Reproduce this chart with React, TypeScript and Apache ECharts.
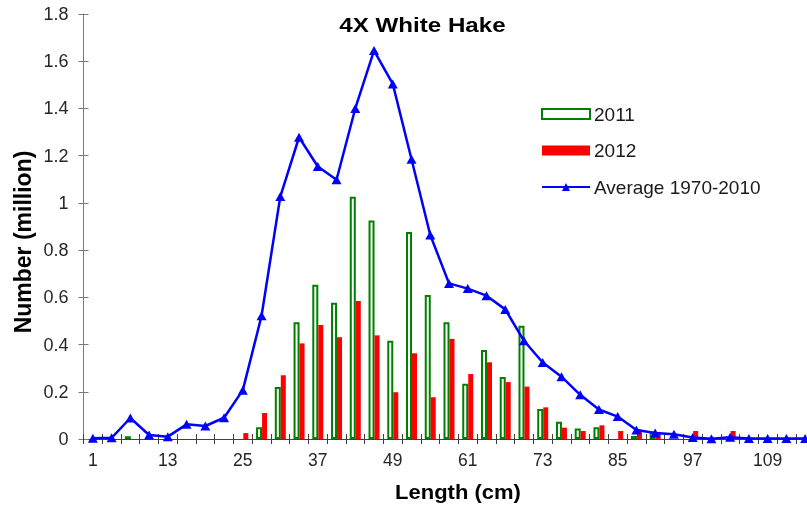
import React, { useEffect, useRef } from "react";
import * as echarts from "echarts";

const lengths = [1, 4, 7, 10, 13, 16, 19, 22, 25, 28, 31, 34, 37, 40, 43, 46, 49, 52, 55, 58, 61, 64, 67, 70, 73, 76, 79, 82, 85, 88, 91, 94, 97, 100, 103, 106, 109, 112, 115];

const avg19702010 = [0.003, 0.005, 0.089, 0.017, 0.01, 0.062, 0.055, 0.09, 0.207, 0.522, 1.027, 1.278, 1.154, 1.098, 1.4, 1.645, 1.504, 1.185, 0.864, 0.659, 0.637, 0.607, 0.549, 0.416, 0.324, 0.264, 0.187, 0.125, 0.095, 0.038, 0.025, 0.02, 0.006, 0.001, 0.007, 0.002, 0.002, 0.002, 0.002];

const y2011 = [0, 0, 0.012, 0, 0, 0, 0, 0, 0, 0.05, 0.22, 0.494, 0.653, 0.577, 1.026, 0.925, 0.416, 0.877, 0.61, 0.494, 0.234, 0.377, 0.263, 0.48, 0.127, 0.073, 0.045, 0.05, 0, 0.013, 0.031, 0, 0, 0, 0, 0, 0, 0, 0];

const y2012 = [0, 0, 0, 0, 0, 0, 0, 0, 0.025, 0.11, 0.27, 0.405, 0.483, 0.431, 0.584, 0.439, 0.198, 0.363, 0.177, 0.424, 0.275, 0.325, 0.241, 0.222, 0.134, 0.048, 0.034, 0.058, 0.034, 0.04, 0.03, 0, 0.034, 0, 0.034, 0, 0, 0, 0];

const FONT = "'Liberation Sans', Arial, sans-serif";

export default function App() {
  const ref = useRef<HTMLDivElement>(null);

  useEffect(() => {
    const chart = echarts.init(ref.current!, null, { renderer: "svg" });
    const cats = lengths.map(String);
    const nz = (v: number) => (v === 0 ? "-" : v);
    const yBase = {
      type: "value" as const,
      min: 0,
      max: 1.8,
      interval: 0.2,
      splitLine: { show: false },
    };
    const xBase = {
      type: "category" as const,
      data: cats,
      boundaryGap: true,
    };
    chart.setOption({
      animation: false,
      textStyle: { fontFamily: FONT },
      grid: { left: 83.5, right: 0.5, top: 14, bottom: 71, containLabel: false },
      xAxis: [
        {
          ...xBase,
          axisLine: { lineStyle: { color: "#404040", width: 1 } },
          axisTick: { show: true, interval: 0, length: 5, lineStyle: { color: "#404040" } },
          axisLabel: { interval: 3, fontSize: 17.5, color: "#262626", margin: 12, fontFamily: FONT },
        },
        {
          ...xBase,
          position: "bottom",
          axisLine: { show: false },
          axisTick: { show: true, inside: true, interval: 0, length: 5, lineStyle: { color: "#404040" } },
          axisLabel: { show: false },
        },
      ],
      yAxis: [
        {
          ...yBase,
          axisLine: { show: true, lineStyle: { color: "#7a7a7a" } },
          axisTick: { show: true, length: 5, lineStyle: { color: "#7a7a7a" } },
          axisLabel: { fontSize: 18, color: "#262626", margin: 15, fontFamily: FONT },
        },
        {
          ...yBase,
          position: "left",
          axisLine: { show: false },
          axisTick: { show: true, inside: true, length: 5, lineStyle: { color: "#7a7a7a" } },
          axisLabel: { show: false },
        },
      ],
      legend: {
        orient: "vertical",
        left: 536,
        top: 99,
        itemWidth: 48,
        itemHeight: 10,
        itemGap: 16.5,
        textStyle: { fontSize: 19, color: "#1a1a1a", fontFamily: FONT, lineHeight: 20, padding: [0, 0, 0, -1] },
        data: [
          { name: "2011", icon: "rect" },
          { name: "2012", icon: "rect" },
          { name: "Average 1970-2010" },
        ],
      },
      graphic: [
        {
          type: "text",
          x: 422.5,
          y: 25,
          scaleX: 1.15,
          style: {
            text: "4X White Hake",
            font: `bold 21px ${FONT}`,
            fill: "#000",
            align: "center",
            verticalAlign: "middle",
          },
        },
        {
          type: "text",
          x: 458,
          y: 492,
          scaleX: 1.1,
          style: {
            text: "Length (cm)",
            font: `bold 20px ${FONT}`,
            fill: "#000",
            align: "center",
            verticalAlign: "middle",
          },
        },
        {
          type: "text",
          x: 23,
          y: 242,
          rotation: Math.PI / 2,
          style: {
            text: "Number (million)",
            font: `bold 23px ${FONT}`,
            fill: "#000",
            align: "center",
            verticalAlign: "middle",
          },
        },
      ],
      series: [
        {
          name: "2011",
          type: "bar",
          barWidth: 6,
          data: y2011.map(nz),
          itemStyle: { color: "#ffffff", borderColor: "#008000", borderWidth: 2 },
        },
        {
          name: "2012",
          type: "bar",
          barWidth: 5,
          barGap: "0%",
          data: y2012.map(nz),
          itemStyle: { color: "#ff0000" },
        },
        {
          name: "Average 1970-2010",
          type: "line",
          data: avg19702010,
          symbol: "triangle",
          symbolSize: [10, 9],
          lineStyle: { color: "#0000ff", width: 2.5 },
          itemStyle: { color: "#0000ff" },
          z: 5,
        },
      ],
    });
    return () => chart.dispose();
  }, []);

  return (
    <div style={{ position: "fixed", left: 0, top: 0, width: 807, height: 510, overflow: "hidden" }}>
      <div ref={ref} style={{ width: 815, height: 510 }} />
    </div>
  );
}
